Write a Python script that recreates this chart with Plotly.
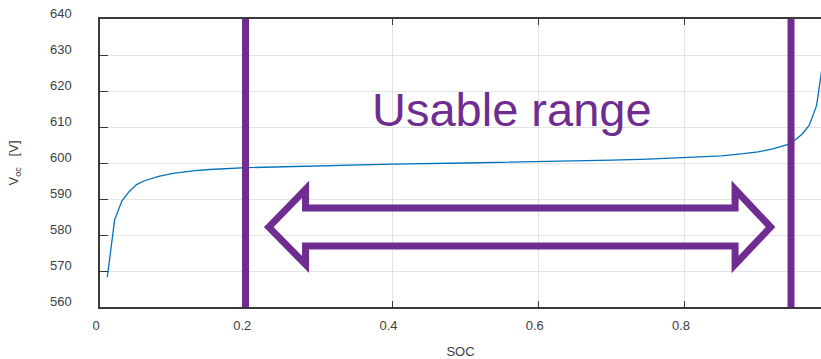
import plotly.graph_objects as go

# Data
soc = [0.01, 0.02, 0.03, 0.04, 0.05, 0.06, 0.08, 0.10, 0.13, 0.15, 0.20, 0.25,
       0.30, 0.40, 0.50, 0.60, 0.70, 0.75, 0.80, 0.85, 0.88, 0.90, 0.92, 0.94,
       0.95, 0.96, 0.97, 0.98, 0.99]
voc = [568.3, 584.2, 589.5, 592.1, 594.0, 595.0, 596.3, 597.1, 597.9, 598.2, 598.7, 599.0,
       599.3, 599.7, 600.0, 600.35, 600.8, 601.1, 601.5, 602.0, 602.6, 603.1, 603.9, 605.1,
       606.3, 608.0, 610.5, 616.0, 630.0]
usable_range = [0.199, 0.945]
x_ticks = [0, 0.2, 0.4, 0.6, 0.8]
y_ticks = [560, 570, 580, 590, 600, 610, 620, 630, 640]

PURPLE = "#6F2D91"
BLUE = "#0072BD"
AXIS = "#3a3a3a"
FONT = "Liberation Sans, Arial, sans-serif"

fig = go.Figure()
fig.add_trace(go.Scatter(x=soc, y=voc, mode="lines",
                         line=dict(color=BLUE, width=1.3), showlegend=False,
                         hoverinfo="skip"))

# usable range boundaries
for xv in usable_range:
    fig.add_shape(type="line", xref="x", yref="paper", x0=xv, x1=xv, y0=0, y1=1,
                  line=dict(color=PURPLE, width=7), layer="above")

# double-headed outline arrow
xl_tip, xl_base, xr_base, xr_tip = 0.2308, 0.2811, 0.8685, 0.917
y_mid, y_shaft_t, y_shaft_b, y_head_t, y_head_b = 582.2, 587.5, 576.94, 592.7, 571.8
path = (f"M {xl_tip},{y_mid} L {xl_base},{y_head_t} L {xl_base},{y_shaft_t} "
        f"L {xr_base},{y_shaft_t} L {xr_base},{y_head_t} L {xr_tip},{y_mid} "
        f"L {xr_base},{y_head_b} L {xr_base},{y_shaft_b} L {xl_base},{y_shaft_b} "
        f"L {xl_base},{y_head_b} Z")
fig.add_shape(type="path", xref="x", yref="y", path=path,
              line=dict(color=PURPLE, width=7), fillcolor="rgba(0,0,0,0)")

fig.add_annotation(x=0.5632, y=615, xref="x", yref="y", text="Usable range",
                   showarrow=False, font=dict(family=FONT, size=47, color=PURPLE),
                   xanchor="center", yanchor="middle")

fig.update_layout(
    width=821, height=359,
    margin=dict(l=100, r=0, t=19, b=52),
    paper_bgcolor="white", plot_bgcolor="white",
    font=dict(family=FONT, size=13, color="#404040"),
    showlegend=False,
)
fig.update_xaxes(
    range=[0, 0.986], tickvals=x_ticks, ticktext=["0", "0.2", "0.4", "0.6", "0.8"],
    showgrid=True, gridcolor="#e3e3e3", gridwidth=1, zeroline=False,
    showline=True, linecolor=AXIS, linewidth=1.5, mirror="ticks",
    ticks="inside", ticklen=6, tickcolor=AXIS, automargin=False,
    ticklabelstandoff=6, ticklabelshift=-4, ticklabeloverflow="allow",
    title=dict(text="SOC", standoff=15, font=dict(size=13, color="#404040")),
)
fig.update_yaxes(
    range=[560, 640], tickvals=y_ticks,
    showgrid=True, gridcolor="#e3e3e3", gridwidth=1, zeroline=False,
    showline=True, linecolor=AXIS, linewidth=1.5, mirror=False,
    ticks="inside", ticklen=8, tickcolor=AXIS, automargin=False,
    ticklabelstandoff=24, ticklabelshift=-6, ticklabeloverflow="allow",
    title=dict(text="V<sub>oc</sub>   [V]", standoff=28, font=dict(size=13, color="#404040")),
)

# remove the default page margin so the figure sits at the window's corner
fig.write_html("out.html",
               config={"displayModeBar": False},
               post_script="document.body.style.margin='0px';"
                           "document.documentElement.style.overflow='hidden';")
